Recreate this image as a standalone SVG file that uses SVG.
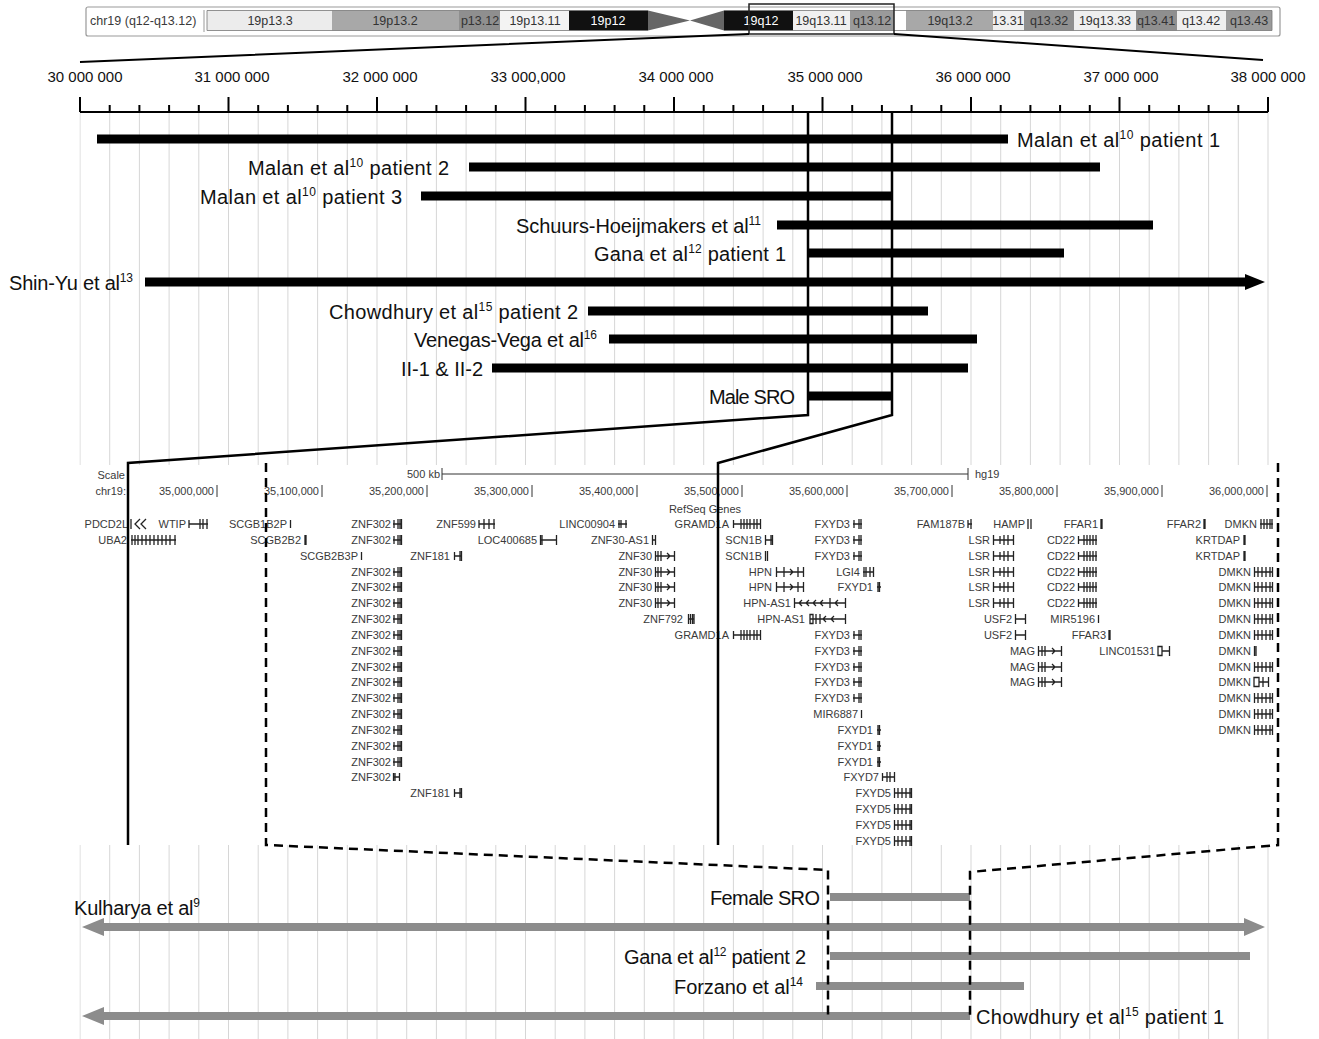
<svg xmlns="http://www.w3.org/2000/svg" xmlns:xlink="http://www.w3.org/1999/xlink" width="1319" height="1039" viewBox="0 0 1319 1039">
<style>
.lbl{font-family:"Liberation Sans",Arial,sans-serif;font-size:20px;fill:#111}
.rl{font-family:"Liberation Sans",Arial,sans-serif;font-size:15px;fill:#111;text-anchor:middle}
.bd{font-family:"Liberation Sans",Arial,sans-serif;font-size:12.5px;fill:#333;text-anchor:middle}
.gt{font-family:"Liberation Sans",Arial,sans-serif;font-size:11px;fill:#3a3a3a;text-anchor:end}
.gs{font-family:"Liberation Sans",Arial,sans-serif;font-size:11px;fill:#3a3a3a}
.gg{fill:none;stroke:#222;stroke-width:1.3}
.bk{fill:#000}
.gr{fill:#8c8c8c}
.con{fill:none;stroke:#000;stroke-width:2.5}
.dash{fill:none;stroke:#000;stroke-width:2.5;stroke-dasharray:9 6}
</style>
<defs>
<pattern id="grid" x="79.5" y="0" width="29.7" height="10" patternUnits="userSpaceOnUse">
<rect x="0" y="0" width="1" height="10" fill="#d6d6d6"/>
</pattern>
<path id="znf302" class="gg" d="M0 0H9M1 -4v8M5 -5v10M7 -5v10M8.5 -5v10"/>
<path id="fxyd3" class="gg" d="M0 0H9M1 -4v8M6 -5v10M8 -5v10"/>
<path id="lsr" class="gg" d="M0 0H21M0.5 -5v10M7 -4v8M11 -5v10M15 -5v10M20.5 -5v10"/>
<path id="cd22" class="gg" d="M0 0H19M0.5 -4v8M6 -5v10M9 -5v10M12 -5v10M15 -5v10M18 -5v10"/>
<path id="dmkn" class="gg" d="M0 0H19M0.5 -5v10M4 -5v10M8 -5v10M12 -5v10M16 -5v10M18.5 -5v10"/>
<path id="znf30" class="gg" d="M0 0H20M0.5 -5v10M3 -5v10M6 -5v10M12 -3l3 3l-3 3M19.5 -5v10"/>
<path id="fxyd5" class="gg" d="M0 0H18M0.5 -5v10M4 -5v10M8 -5v10M12 -5v10M16 -5v10M17.5 -5v10"/>
<path id="fxyd1" class="gg" d="M0 0H4M1 -5v10M2.5 -5v10"/>
<path id="mag" class="gg" d="M0 0H24M0.5 -5v10M4 -5v10M7 -5v10M14 -3l3 3l-3 3M23.5 -5v10"/>
<path id="hpn" class="gg" d="M0 0H28M0.5 -5v10M8 -5v10M14 -3l3 3l-3 3M22 -5v10M27.5 -5v10"/>
<path id="usf2" class="gg" d="M0 0H11M0.5 -5v10M10.5 -5v10"/>
<path id="krtdap" class="gg" d="M1 -5v10M2 -5v10"/>
<path id="scn1b" class="gg" d="M0 0H8M0.5 -5v10M6 -5v10M7.5 -5v10"/>
<path id="gramd1a" class="gg" d="M0 0H28M0.5 -4v8M8 -5v10M11 -5v10M14 -5v10M17 -5v10M21 -5v10M24 -5v10M27.5 -5v10"/>
<path id="znf181" class="gg" d="M0 0H8M0.5 -4v8M6 -5v10M7.5 -5v10"/>
<path id="tick" class="gg" d="M0.5 -4v8"/>
</defs>
<rect width="1319" height="1039" fill="#fff"/>

<!-- grid -->
<rect x="79.5" y="112" width="1190" height="927" fill="url(#grid)"/>

<!-- ideogram -->
<g id="ideogram">
<rect x="86" y="7" width="1194" height="29" rx="2" fill="#fff" stroke="#999" stroke-width="1.2"/>
<text class="gs" x="90" y="25" style="font-size:12.5px">chr19 (q12-q13.12)</text>
<line x1="204" y1="10" x2="204" y2="32" stroke="#999"/>
<rect x="207" y="10.5" width="125" height="20" fill="#ececec"/>
<rect x="332" y="10.5" width="127" height="20" fill="#a8a8a8"/>
<rect x="459" y="10.5" width="41" height="20" fill="#8f8f8f"/>
<rect x="500" y="10.5" width="69" height="20" fill="#f3f3f3"/>
<rect x="569" y="10.5" width="79" height="20" fill="#111"/>
<polygon points="648,10.5 690,20.5 648,30.5" fill="#666"/>
<polygon points="724,10.5 690,20.5 724,30.5" fill="#666"/>
<rect x="724" y="10.5" width="69" height="20" fill="#111"/>
<rect x="793" y="10.5" width="57" height="20" fill="#f0f0f0"/>
<rect x="850" y="10.5" width="44" height="20" fill="#9a9a9a"/>
<rect x="906" y="10.5" width="87" height="20" fill="#a8a8a8"/>
<rect x="993" y="10.5" width="31" height="20" fill="#efefef"/>
<rect x="1024" y="10.5" width="50" height="20" fill="#8f8f8f"/>
<rect x="1074" y="10.5" width="62" height="20" fill="#efefef"/>
<rect x="1136" y="10.5" width="41" height="20" fill="#8f8f8f"/>
<rect x="1177" y="10.5" width="49" height="20" fill="#efefef"/>
<rect x="1226" y="10.5" width="46" height="20" fill="#9a9a9a"/>
<path d="M207 10.5H648M207 30.5H648M207 10.5V30.5M724 10.5H1272V30.5H724" fill="none" stroke="#777" stroke-width="0.8"/>
<text class="bd" x="270" y="25">19p13.3</text>
<text class="bd" x="395" y="25">19p13.2</text>
<text class="bd" x="480" y="25">p13.12</text>
<text class="bd" x="535" y="25">19p13.11</text>
<text class="bd" x="608" y="25" style="fill:#fff">19p12</text>
<text class="bd" x="761" y="25" style="fill:#fff">19q12</text>
<text class="bd" x="821" y="25">19q13.11</text>
<text class="bd" x="872" y="25">q13.12</text>
<text class="bd" x="950" y="25">19q13.2</text>
<text class="bd" x="1008" y="25">13.31</text>
<text class="bd" x="1049" y="25">q13.32</text>
<text class="bd" x="1105" y="25">19q13.33</text>
<text class="bd" x="1156" y="25">q13.41</text>
<text class="bd" x="1201" y="25">q13.42</text>
<text class="bd" x="1249" y="25">q13.43</text>
<rect x="749" y="4" width="145" height="30" fill="none" stroke="#222" stroke-width="1.5"/>
</g>

<!-- ruler -->
<g id="ruler">
<path d="M80 112H1268M80 97V112M228.5 97V112M377 97V112M525.5 97V112M674 97V112M822.5 97V112M971 97V112M1119.5 97V112M1268 97V112M109.7 105V112M139.4 105V112M169.1 105V112M198.8 105V112M258.2 105V112M287.9 105V112M317.6 105V112M347.3 105V112M406.7 105V112M436.4 105V112M466.1 105V112M495.8 105V112M555.2 105V112M584.9 105V112M614.6 105V112M644.3 105V112M703.7 105V112M733.4 105V112M763.1 105V112M792.8 105V112M852.2 105V112M881.9 105V112M911.6 105V112M941.3 105V112M1000.7 105V112M1030.4 105V112M1060.1 105V112M1089.8 105V112M1149.2 105V112M1178.9 105V112M1208.6 105V112M1238.3 105V112" fill="none" stroke="#000" stroke-width="2"/>
<text class="rl" x="85" y="82">30 000 000</text>
<text class="rl" x="232" y="82">31 000 000</text>
<text class="rl" x="380" y="82">32 000 000</text>
<text class="rl" x="528" y="82">33 000,000</text>
<text class="rl" x="676" y="82">34 000 000</text>
<text class="rl" x="825" y="82">35 000 000</text>
<text class="rl" x="973" y="82">36 000 000</text>
<text class="rl" x="1121" y="82">37 000 000</text>
<text class="rl" x="1268" y="82">38 000 000</text>
</g>

<!-- male deletion bars -->
<g id="malan-p1"><rect class="bk" x="97" y="134.5" width="911" height="9"/><text class="lbl" x="1017" y="147" textLength="203">Malan et al<tspan dy="-8" font-size="12">10</tspan><tspan dy="8"> patient 1</tspan></text></g>
<g id="malan-p2"><rect class="bk" x="469" y="162.5" width="631" height="9"/><text class="lbl" x="449" y="175" text-anchor="end" textLength="201">Malan et al<tspan dy="-8" font-size="12">10</tspan><tspan dy="8"> patient 2</tspan></text></g>
<g id="malan-p3"><rect class="bk" x="421" y="191.5" width="471" height="9"/><text class="lbl" x="402" y="204" text-anchor="end" textLength="202">Malan et al<tspan dy="-8" font-size="12">10</tspan><tspan dy="8"> patient 3</tspan></text></g>
<g id="schuurs"><rect class="bk" x="777" y="220.5" width="376" height="9"/><text class="lbl" x="761" y="233" text-anchor="end" textLength="245">Schuurs-Hoeijmakers et al<tspan dy="-8" font-size="12">11</tspan></text></g>
<g id="gana-p1"><rect class="bk" x="808" y="248.5" width="256" height="9"/><text class="lbl" x="786" y="261" text-anchor="end" textLength="192">Gana et al<tspan dy="-8" font-size="12">12</tspan><tspan dy="8"> patient 1</tspan></text></g>
<g id="shin-yu"><polygon class="bk" points="145,277.5 1245,277.5 1245,274 1265,282 1245,290 1245,286.5 145,286.5"/><text class="lbl" x="9" y="290" textLength="124">Shin-Yu et al<tspan dy="-8" font-size="12">13</tspan></text></g>
<g id="chowdhury-p2"><rect class="bk" x="588" y="306.5" width="340" height="9"/><text class="lbl" x="578" y="319" text-anchor="end" textLength="249">Chowdhury et al<tspan dy="-8" font-size="12">15</tspan><tspan dy="8"> patient 2</tspan></text></g>
<g id="venegas"><rect class="bk" x="609" y="334.5" width="368" height="9"/><text class="lbl" x="597" y="347" text-anchor="end" textLength="183">Venegas-Vega et al<tspan dy="-8" font-size="12">16</tspan></text></g>
<g id="ii1-ii2"><rect class="bk" x="492" y="363.5" width="476" height="9"/><text class="lbl" x="483" y="376" text-anchor="end" textLength="82">II-1 &amp; II-2</text></g>
<g id="male-sro"><rect class="bk" x="808" y="391.5" width="84" height="9"/><text class="lbl" x="795" y="404" text-anchor="end" textLength="86">Male SRO</text></g>

<!-- gene track -->
<g id="gene-track">
<rect x="76" y="465" width="1214" height="380" fill="#fff"/>
<text class="gt" x="125" y="479">Scale</text>
<text class="gt" x="440" y="478">500 kb</text>
<path d="M442 474H968M442 468v12M968 468v12" fill="none" stroke="#333" stroke-width="1"/>
<text class="gs" x="975" y="478">hg19</text>
<text class="gt" x="126" y="495">chr19:</text>
<path d="M217 485v12M322 485v12M427 485v12M532 485v12M637 485v12M742 485v12M847 485v12M952 485v12M1057 485v12M1162 485v12M1267 485v12" fill="none" stroke="#333" stroke-width="1"/>
<text class="gt" x="214" y="495">35,000,000</text>
<text class="gt" x="319" y="495">35,100,000</text>
<text class="gt" x="424" y="495">35,200,000</text>
<text class="gt" x="529" y="495">35,300,000</text>
<text class="gt" x="634" y="495">35,400,000</text>
<text class="gt" x="739" y="495">35,500,000</text>
<text class="gt" x="844" y="495">35,600,000</text>
<text class="gt" x="949" y="495">35,700,000</text>
<text class="gt" x="1054" y="495">35,800,000</text>
<text class="gt" x="1159" y="495">35,900,000</text>
<text class="gt" x="1264" y="495">36,000,000</text>
<text class="gs" x="705" y="513" text-anchor="middle">RefSeq Genes</text>

<!-- row 1 -->
<text class="gt" x="128" y="528">PDCD2L</text><path class="gg" d="M131 519v10M140 519l-5 5l5 5M146 519l-5 5l5 5"/>
<text class="gt" x="186" y="528">WTIP</text><path class="gg" d="M189 524H208M189 520v8M200 519v10M203 519v10M207 519v10"/>
<text class="gt" x="287" y="528">SCGB1B2P</text><use href="#tick" x="290" y="524"/>
<text class="gt" x="391" y="528">ZNF302</text><use href="#znf302" x="393" y="524"/>
<text class="gt" x="476" y="528">ZNF599</text><path class="gg" d="M479 524H495M479 520v8M484 519v10M489 519v10M494 519v10"/>
<text class="gt" x="615" y="528">LINC00904</text><path class="gg" d="M618 524H627M619 520v8M621 520v8M626 520v8"/>
<text class="gt" x="729" y="528">GRAMD1A</text><use href="#gramd1a" x="733" y="524"/>
<text class="gt" x="850" y="528">FXYD3</text><use href="#fxyd3" x="853" y="524"/>
<text class="gt" x="965" y="528">FAM187B</text><path class="gg" d="M968 520v8M971 519v10M968 524H972"/>
<text class="gt" x="1025" y="528">HAMP</text><path class="gg" d="M1028 519v10M1031 519v10"/>
<text class="gt" x="1098" y="528">FFAR1</text><use href="#krtdap" x="1100" y="524"/>
<text class="gt" x="1201" y="528">FFAR2</text><use href="#krtdap" x="1203" y="524"/>
<text class="gt" x="1257" y="528">DMKN</text><path class="gg" d="M1260 524H1273M1261 519v10M1264 519v10M1267 519v10M1270 519v10M1272 519v10"/>
<!-- row 2 -->
<text class="gt" x="127" y="544">UBA2</text><path class="gg" d="M131 540H176M132 535v10M135 535v10M138 535v10M142 535v10M146 535v10M150 535v10M154 535v10M158 535v10M162 535v10M166 535v10M170 535v10M175 535v10"/>
<text class="gt" x="301" y="544">SCGB2B2</text><use href="#krtdap" x="304" y="540"/>
<text class="gt" x="391" y="544">ZNF302</text><use href="#znf302" x="393" y="540"/>
<text class="gt" x="537" y="544">LOC400685</text><path class="gg" d="M540 540H557M540.5 535v10M542 535v10M556.5 535v10"/>
<text class="gt" x="649" y="544">ZNF30-AS1</text><path class="gg" d="M652 540H656M652.5 535v10M655.5 535v10"/>
<text class="gt" x="762" y="544">SCN1B</text><use href="#scn1b" x="765" y="540"/>
<text class="gt" x="850" y="544">FXYD3</text><use href="#fxyd3" x="853" y="540"/>
<text class="gt" x="990" y="544">LSR</text><use href="#lsr" x="993" y="540"/>
<text class="gt" x="1075" y="544">CD22</text><use href="#cd22" x="1078" y="540"/>
<text class="gt" x="1240" y="544">KRTDAP</text><use href="#krtdap" x="1243" y="540"/>
<!-- row 3 -->
<text class="gt" x="358" y="560">SCGB2B3P</text><use href="#tick" x="361" y="556"/>
<text class="gt" x="450" y="560">ZNF181</text><use href="#znf181" x="454" y="556"/>
<text class="gt" x="652" y="560">ZNF30</text><use href="#znf30" x="655" y="556"/>
<text class="gt" x="762" y="560">SCN1B</text><path class="gg" d="M765.5 551v10M767.5 551v10"/>
<text class="gt" x="850" y="560">FXYD3</text><use href="#fxyd3" x="853" y="556"/>
<text class="gt" x="990" y="560">LSR</text><use href="#lsr" x="993" y="556"/>
<text class="gt" x="1075" y="560">CD22</text><use href="#cd22" x="1078" y="556"/>
<text class="gt" x="1240" y="560">KRTDAP</text><use href="#krtdap" x="1243" y="556"/>
<!-- row 4 -->
<text class="gt" x="391" y="576">ZNF302</text><use href="#znf302" x="393" y="572"/>
<text class="gt" x="652" y="576">ZNF30</text><use href="#znf30" x="655" y="572"/>
<text class="gt" x="772" y="576">HPN</text><use href="#hpn" x="776" y="572"/>
<text class="gt" x="860" y="576">LGI4</text><path class="gg" d="M863 572H874M864 567v10M866 567v10M870 567v10M873.5 567v10"/>
<text class="gt" x="990" y="576">LSR</text><use href="#lsr" x="993" y="572"/>
<text class="gt" x="1075" y="576">CD22</text><use href="#cd22" x="1078" y="572"/>
<text class="gt" x="1251" y="576">DMKN</text><use href="#dmkn" x="1254" y="572"/>
<!-- row 5 -->
<text class="gt" x="391" y="591">ZNF302</text><use href="#znf302" x="393" y="587"/>
<text class="gt" x="652" y="591">ZNF30</text><use href="#znf30" x="655" y="587"/>
<text class="gt" x="772" y="591">HPN</text><use href="#hpn" x="776" y="587"/>
<text class="gt" x="873" y="591">FXYD1</text><use href="#fxyd1" x="877" y="587"/>
<text class="gt" x="990" y="591">LSR</text><use href="#lsr" x="993" y="587"/>
<text class="gt" x="1075" y="591">CD22</text><use href="#cd22" x="1078" y="587"/>
<text class="gt" x="1251" y="591">DMKN</text><use href="#dmkn" x="1254" y="587"/>
<!-- row 6 -->
<text class="gt" x="391" y="607">ZNF302</text><use href="#znf302" x="393" y="603"/>
<text class="gt" x="652" y="607">ZNF30</text><use href="#znf30" x="655" y="603"/>
<text class="gt" x="791" y="607">HPN-AS1</text><path class="gg" d="M794 603H846M794.5 598v10M802 600l-3 3l3 3M809 600l-3 3l3 3M816 600l-3 3l3 3M823 600l-3 3l3 3M830 598v10M838 600l-3 3l3 3M845.5 598v10"/>
<text class="gt" x="990" y="607">LSR</text><use href="#lsr" x="993" y="603"/>
<text class="gt" x="1075" y="607">CD22</text><use href="#cd22" x="1078" y="603"/>
<text class="gt" x="1251" y="607">DMKN</text><use href="#dmkn" x="1254" y="603"/>
<!-- row 7 -->
<text class="gt" x="391" y="623">ZNF302</text><use href="#znf302" x="393" y="619"/>
<text class="gt" x="683" y="623">ZNF792</text><path class="gg" d="M688 619H694M688.5 614v10M690.5 614v10M692.5 614v10M694 614v10"/>
<text class="gt" x="805" y="623">HPN-AS1</text><path class="gg" d="M810 619H846M810 614.5h3v9h-3zM816 614v10M820 614v10M826 616l-3 3l3 3M834 616l-3 3l3 3M845.5 614v10"/>
<text class="gt" x="1012" y="623">USF2</text><use href="#usf2" x="1015" y="619"/>
<text class="gt" x="1095" y="623">MIR5196</text><use href="#tick" x="1098" y="619"/>
<text class="gt" x="1251" y="623">DMKN</text><use href="#dmkn" x="1254" y="619"/>
<!-- row 8 -->
<text class="gt" x="391" y="639">ZNF302</text><use href="#znf302" x="393" y="635"/>
<text class="gt" x="729" y="639">GRAMD1A</text><use href="#gramd1a" x="733" y="635"/>
<text class="gt" x="850" y="639">FXYD3</text><use href="#fxyd3" x="853" y="635"/>
<text class="gt" x="1012" y="639">USF2</text><use href="#usf2" x="1015" y="635"/>
<text class="gt" x="1106" y="639">FFAR3</text><use href="#krtdap" x="1108" y="635"/>
<text class="gt" x="1251" y="639">DMKN</text><use href="#dmkn" x="1254" y="635"/>
<!-- row 9 -->
<text class="gt" x="391" y="655">ZNF302</text><use href="#znf302" x="393" y="651"/>
<text class="gt" x="850" y="655">FXYD3</text><use href="#fxyd3" x="853" y="651"/>
<text class="gt" x="1035" y="655">MAG</text><use href="#mag" x="1038" y="651"/>
<text class="gt" x="1155" y="655">LINC01531</text><path class="gg" d="M1158 646.5h4v9h-4zM1162 651H1170M1169.5 646v10"/>
<text class="gt" x="1251" y="655">DMKN</text><path class="gg" d="M1254.5 646v10M1256 646v10"/>
<!-- row 10 -->
<text class="gt" x="391" y="671">ZNF302</text><use href="#znf302" x="393" y="667"/>
<text class="gt" x="850" y="671">FXYD3</text><use href="#fxyd3" x="853" y="667"/>
<text class="gt" x="1035" y="671">MAG</text><use href="#mag" x="1038" y="667"/>
<text class="gt" x="1251" y="671">DMKN</text><use href="#dmkn" x="1254" y="667"/>
<!-- row 11 -->
<text class="gt" x="391" y="686">ZNF302</text><use href="#znf302" x="393" y="682"/>
<text class="gt" x="850" y="686">FXYD3</text><use href="#fxyd3" x="853" y="682"/>
<text class="gt" x="1035" y="686">MAG</text><use href="#mag" x="1038" y="682"/>
<text class="gt" x="1251" y="686">DMKN</text><path class="gg" d="M1254 677.5h5v9h-5zM1259 682H1269M1263 677v10M1268.5 677v10"/>
<!-- row 12 -->
<text class="gt" x="391" y="702">ZNF302</text><use href="#znf302" x="393" y="698"/>
<text class="gt" x="850" y="702">FXYD3</text><use href="#fxyd3" x="853" y="698"/>
<text class="gt" x="1251" y="702">DMKN</text><use href="#dmkn" x="1254" y="698"/>
<!-- row 13 -->
<text class="gt" x="391" y="718">ZNF302</text><use href="#znf302" x="393" y="714"/>
<text class="gt" x="858" y="718">MIR6887</text><use href="#tick" x="861" y="714"/>
<text class="gt" x="1251" y="718">DMKN</text><use href="#dmkn" x="1254" y="714"/>
<!-- row 14 -->
<text class="gt" x="391" y="734">ZNF302</text><use href="#znf302" x="393" y="730"/>
<text class="gt" x="873" y="734">FXYD1</text><use href="#fxyd1" x="877" y="730"/>
<text class="gt" x="1251" y="734">DMKN</text><use href="#dmkn" x="1254" y="730"/>
<!-- row 15-17 -->
<text class="gt" x="391" y="750">ZNF302</text><use href="#znf302" x="393" y="746"/>
<text class="gt" x="873" y="750">FXYD1</text><use href="#fxyd1" x="877" y="746"/>
<text class="gt" x="391" y="766">ZNF302</text><use href="#znf302" x="393" y="762"/>
<text class="gt" x="873" y="766">FXYD1</text><use href="#fxyd1" x="877" y="762"/>
<text class="gt" x="391" y="781">ZNF302</text><path class="gg" d="M393 777H400M393.5 773v8M395 773v8M399.5 773v8"/>
<text class="gt" x="879" y="781">FXYD7</text><path class="gg" d="M882 777H895M882.5 773v8M887 772v10M890 772v10M894.5 772v10"/>
<!-- row 18-21 -->
<text class="gt" x="450" y="797">ZNF181</text><use href="#znf181" x="454" y="793"/>
<text class="gt" x="891" y="797">FXYD5</text><use href="#fxyd5" x="894" y="793"/>
<text class="gt" x="891" y="813">FXYD5</text><use href="#fxyd5" x="894" y="809"/>
<text class="gt" x="891" y="829">FXYD5</text><use href="#fxyd5" x="894" y="825"/>
<text class="gt" x="891" y="845">FXYD5</text><use href="#fxyd5" x="894" y="841"/>
</g>

<!-- female deletion bars -->
<g id="female-sro"><rect class="gr" x="830" y="893" width="140" height="8"/><text class="lbl" x="820" y="905" text-anchor="end" textLength="110">Female SRO</text></g>
<g id="kulharya"><polygon class="gr" points="82,927 104,918 104,923 1244,923 1244,918 1265,927 1244,936 1244,931 104,931 104,936"/><text class="lbl" x="74" y="915" textLength="126">Kulharya et al<tspan dy="-8" font-size="12">9</tspan></text></g>
<g id="gana-p2"><rect class="gr" x="830" y="952" width="420" height="8"/><text class="lbl" x="806" y="964" text-anchor="end" textLength="182">Gana et al<tspan dy="-8" font-size="12">12</tspan><tspan dy="8"> patient 2</tspan></text></g>
<g id="forzano"><rect class="gr" x="816" y="982" width="208" height="8"/><text class="lbl" x="803" y="994" text-anchor="end" textLength="129">Forzano et al<tspan dy="-8" font-size="12">14</tspan></text></g>
<g id="chowdhury-p1"><polygon class="gr" points="82,1016 104,1007 104,1012 970,1012 970,1020 104,1020 104,1025"/><text class="lbl" x="976" y="1024" textLength="248">Chowdhury et al<tspan dy="-8" font-size="12">15</tspan><tspan dy="8"> patient 1</tspan></text></g>

<!-- connectors -->
<g id="connectors">
<path d="M749 34L80 62M894 34L1263 60" fill="none" stroke="#000" stroke-width="2"/>
<path class="con" d="M808 112V415L128 463V845"/>
<path class="con" d="M892 112V415L718 463V845"/>
<path class="dash" d="M266 463V845L828 870V1020"/>
<path class="dash" d="M1278 463V845L970 872V1020"/>
</g>
</svg>
